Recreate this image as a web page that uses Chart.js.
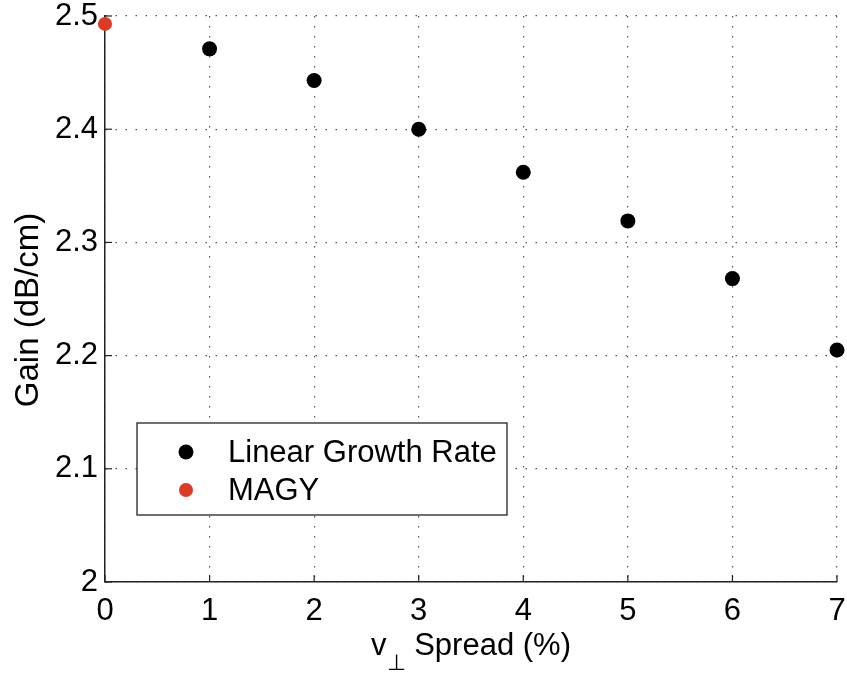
<!DOCTYPE html>
<html><head><meta charset="utf-8">
<script src="https://cdn.jsdelivr.net/npm/chart.js@4"></script>
<style>html,body{margin:0;padding:0;background:#fff}#wrap{width:847px;height:675px}</style>
</head><body><div id="wrap"><canvas id="c" width="847" height="675"></canvas></div>
<script>
// ---- data ----
const spreadPct = [1, 2, 3, 4, 5, 6, 7];
const linearGain = [2.471, 2.443, 2.400, 2.362, 2.319, 2.268, 2.205];
const magySpread = [0];
const magyGain = [2.493];
const xTickValues = [0, 1, 2, 3, 4, 5, 6, 7];
const yTickValues = [2.0, 2.1, 2.2, 2.3, 2.4, 2.5];
const seriesLabels = ['Linear Growth Rate', 'MAGY'];
const xTitleParts = ['v', '\u22A5', ' Spread (%)'];
const yTitle = 'Gain (dB/cm)';

const FONT = 'Arial, "Liberation Sans", Helvetica, sans-serif';
const BLACK = '#000000';
const RED = '#dc3a22';

const toPts = (xs, ys) => xs.map((x, i) => ({x: x, y: ys[i]}));

const extrasPlugin = {
  id: 'extras',
  afterDraw(chart) {
    const ctx = chart.ctx;
    const ca = chart.chartArea;
    const xs = chart.scales.x, ys = chart.scales.y;
    ctx.save();
    // inward tick marks (left & bottom axes)
    ctx.strokeStyle = '#222';
    ctx.lineWidth = 1.2;
    xTickValues.forEach(v => {
      const px = xs.getPixelForValue(v);
      ctx.beginPath(); ctx.moveTo(px, ca.bottom); ctx.lineTo(px, ca.bottom - 7); ctx.stroke();
    });
    yTickValues.forEach(v => {
      const py = ys.getPixelForValue(v);
      ctx.beginPath(); ctx.moveTo(ca.left, py); ctx.lineTo(ca.left + 7, py); ctx.stroke();
    });
    // legend box
    const lx = ca.left + 32, ly = ca.top + 407, lw = 370, lh = 92;
    ctx.fillStyle = '#fff';
    ctx.fillRect(lx, ly, lw, lh);
    ctx.strokeStyle = '#222';
    ctx.lineWidth = 1.3;
    ctx.strokeRect(lx, ly, lw, lh);
    const ds = chart.data.datasets;
    ctx.font = '31px ' + FONT;
    ctx.textBaseline = 'middle';
    ctx.textAlign = 'left';
    ds.forEach((d, i) => {
      const cy = ly + 29 + i * 38;
      ctx.beginPath();
      ctx.arc(lx + 49, cy, d.pointRadius, 0, Math.PI * 2);
      ctx.fillStyle = d.backgroundColor;
      ctx.fill();
      ctx.fillStyle = '#000';
      ctx.fillText(d.label, lx + 91, cy + 1);
    });
    // x-axis title with subscript
    const big = '31px ' + FONT, small = '22px ' + FONT;
    ctx.font = big; const w0 = ctx.measureText(xTitleParts[0]).width;
    ctx.font = small; const w1 = ctx.measureText(xTitleParts[1]).width;
    ctx.font = big; const w2 = ctx.measureText(xTitleParts[2]).width;
    const total = w0 + w1 + w2;
    let tx = (ca.left + ca.right) / 2 - total / 2;
    const base = ca.bottom + 73;
    ctx.textBaseline = 'alphabetic';
    ctx.fillStyle = '#000';
    ctx.font = big; ctx.fillText(xTitleParts[0], tx, base); tx += w0;
    ctx.font = small; ctx.fillText(xTitleParts[1], tx, base + 15); tx += w1;
    ctx.font = big; ctx.fillText(xTitleParts[2], tx, base);
    // y-axis title
    ctx.save();
    ctx.translate(29, (ca.top + ca.bottom) / 2 + 11);
    ctx.rotate(-Math.PI / 2);
    ctx.font = '33px ' + FONT;
    ctx.textAlign = 'center';
    ctx.textBaseline = 'middle';
    ctx.fillText(yTitle, 0, 0);
    ctx.restore();
    ctx.restore();
  }
};

new Chart(document.getElementById('c'), {
  type: 'scatter',
  data: {
    datasets: [
      {label: seriesLabels[0], data: toPts(spreadPct, linearGain), backgroundColor: BLACK, borderColor: BLACK, pointRadius: 7.5, pointHoverRadius: 7.5, borderWidth: 0, clip: false},
      {label: seriesLabels[1], data: toPts(magySpread, magyGain), backgroundColor: RED, borderColor: RED, pointRadius: 7, pointHoverRadius: 7, borderWidth: 0, clip: false}
    ]
  },
  options: {
    responsive: false,
    animation: false,
    events: [],
    layout: {padding: {top: 16, right: 10, left: 0, bottom: 0}},
    plugins: {legend: {display: false}, tooltip: {enabled: false}},
    scales: {
      x: {
        type: 'linear', min: 0, max: 7,
        afterFit: s => { s.height = 93; s.paddingLeft = 0; s.paddingRight = 0; },
        afterBuildTicks: s => { s.ticks = xTickValues.map(v => ({value: v})); },
        ticks: {color: '#000', font: {family: FONT, size: 31}, padding: 11, callback: v => String(v)},
        grid: {color: '#555', lineWidth: 1.2, drawTicks: false},
        border: {display: true, color: '#222', width: 1.5, dash: [1.5, 8.5]}
      },
      y: {
        type: 'linear', min: 2.0, max: 2.5,
        afterFit: s => { s.width = 105; s.paddingTop = 0; s.paddingBottom = 0; },
        afterBuildTicks: s => { s.ticks = yTickValues.map(v => ({value: v})); },
        ticks: {color: '#000', font: {family: FONT, size: 31}, padding: 7,
          callback: v => (Math.abs(v - 2) < 1e-9 ? '2' : v.toFixed(1))},
        grid: {color: '#555', lineWidth: 1.2, drawTicks: false},
        border: {display: true, color: '#222', width: 1.5, dash: [1.5, 8.5]}
      }
    }
  },
  plugins: [extrasPlugin]
});
</script>
</body></html>
